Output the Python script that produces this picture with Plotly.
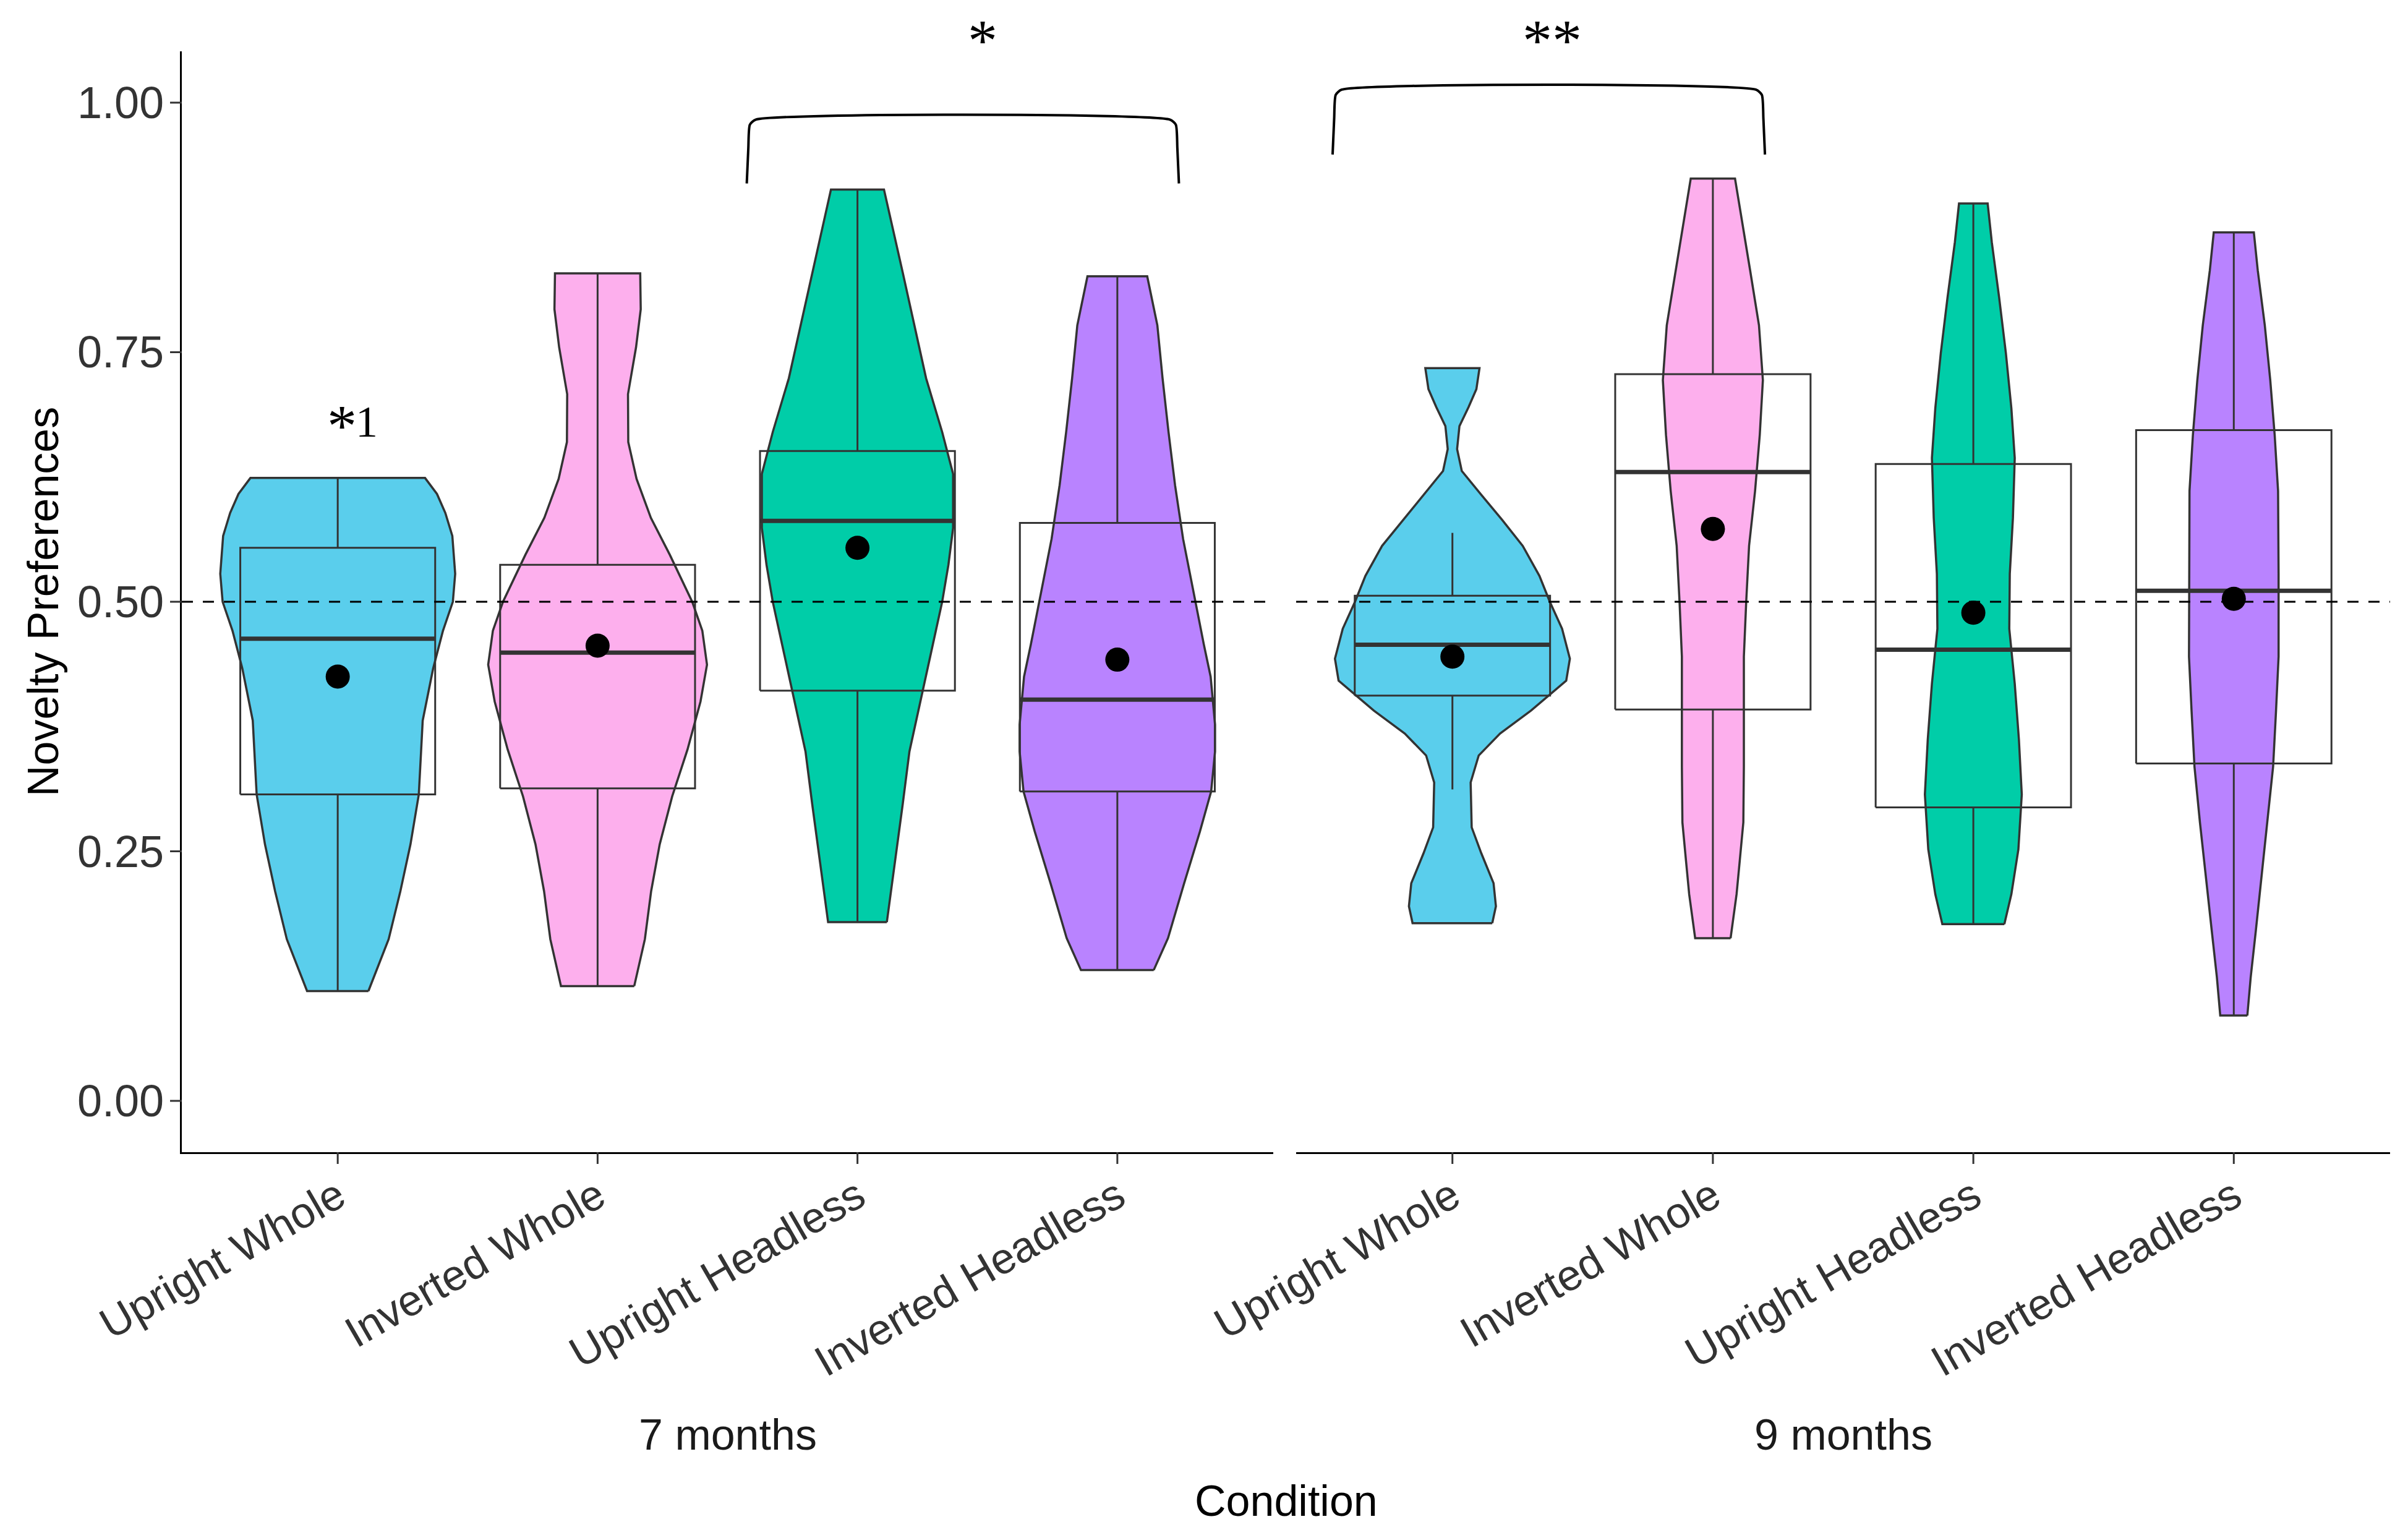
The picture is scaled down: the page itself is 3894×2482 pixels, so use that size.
import plotly.graph_objects as go

# ---------------- data ----------------
conditions = ["Upright Whole", "Inverted Whole", "Upright Headless", "Inverted Headless"]
age_groups = ["7 months", "9 months"]
positions = [1, 2, 3, 4]
colors = ["#5ACEEC", "#FDAFED", "#00CDA8", "#B983FF"]

# violin density profiles (y level, half-width in category units)
v7_uw_y = [0.110, 0.162, 0.210, 0.257, 0.307, 0.381, 0.433, 0.471, 0.500, 0.528, 0.566, 0.589, 0.608, 0.624]
v7_uw_w = [0.118, 0.196, 0.241, 0.280, 0.312, 0.327, 0.367, 0.405, 0.443, 0.452, 0.441, 0.414, 0.382, 0.336]
v7_iw_y = [0.115, 0.162, 0.210, 0.257, 0.305, 0.352, 0.400, 0.437, 0.471, 0.500, 0.547, 0.584, 0.623, 0.660, 0.708, 0.755, 0.793, 0.829]
v7_iw_w = [0.141, 0.182, 0.206, 0.239, 0.287, 0.346, 0.396, 0.421, 0.403, 0.364, 0.278, 0.205, 0.150, 0.118, 0.117, 0.148, 0.166, 0.164]
v7_uh_y = [0.179, 0.243, 0.297, 0.350, 0.411, 0.457, 0.500, 0.537, 0.574, 0.628, 0.670, 0.724, 0.777, 0.830, 0.883, 0.913]
v7_uh_w = [0.113, 0.147, 0.174, 0.200, 0.251, 0.290, 0.326, 0.350, 0.368, 0.368, 0.326, 0.264, 0.220, 0.174, 0.128, 0.102]
v7_ih_y = [0.131, 0.163, 0.217, 0.270, 0.310, 0.350, 0.377, 0.425, 0.457, 0.500, 0.563, 0.617, 0.670, 0.724, 0.777, 0.826]
v7_ih_w = [0.140, 0.195, 0.256, 0.318, 0.361, 0.376, 0.376, 0.359, 0.333, 0.300, 0.253, 0.222, 0.197, 0.174, 0.154, 0.115]

v9_uw_y = [0.178, 0.195, 0.218, 0.248, 0.274, 0.319, 0.346, 0.368, 0.391, 0.406, 0.421, 0.443, 0.473, 0.500,
           0.526, 0.556, 0.582, 0.608, 0.631, 0.653, 0.676, 0.695, 0.713, 0.734]
v9_uw_w = [0.153, 0.167, 0.158, 0.111, 0.074, 0.070, 0.101, 0.183, 0.302, 0.370, 0.437, 0.451, 0.421, 0.374,
           0.334, 0.270, 0.191, 0.108, 0.036, 0.018, 0.027, 0.062, 0.092, 0.104]
v9_iw_y = [0.163, 0.207, 0.240, 0.279, 0.335, 0.445, 0.500, 0.556, 0.611, 0.667, 0.722, 0.777, 0.832, 0.888, 0.924]
v9_iw_w = [0.068, 0.091, 0.103, 0.117, 0.119, 0.119, 0.128, 0.139, 0.162, 0.180, 0.192, 0.177, 0.143, 0.108, 0.085]
v9_uh_y = [0.177, 0.207, 0.252, 0.307, 0.362, 0.418, 0.473, 0.528, 0.584, 0.644, 0.694, 0.749, 0.805, 0.860, 0.899]
v9_uh_w = [0.119, 0.146, 0.173, 0.186, 0.175, 0.159, 0.138, 0.140, 0.152, 0.159, 0.146, 0.125, 0.099, 0.071, 0.055]
v9_ih_y = [0.0855, 0.124, 0.169, 0.224, 0.279, 0.335, 0.390, 0.445, 0.528, 0.611, 0.667, 0.722, 0.777, 0.832, 0.870]
v9_ih_w = [0.052, 0.065, 0.084, 0.106, 0.130, 0.151, 0.162, 0.172, 0.172, 0.170, 0.157, 0.140, 0.119, 0.092, 0.077]

# box statistics
q1_7m = [0.307, 0.313, 0.411, 0.310]
median_7m = [0.463, 0.449, 0.581, 0.402]
q3_7m = [0.554, 0.537, 0.651, 0.579]
lower_7m = [0.110, 0.115, 0.179, 0.131]
upper_7m = [0.624, 0.829, 0.913, 0.826]
mean_7m = [0.425, 0.456, 0.554, 0.442]

q1_9m = [0.406, 0.392, 0.294, 0.338]
median_9m = [0.457, 0.630, 0.452, 0.511]
q3_9m = [0.506, 0.728, 0.638, 0.672]
lower_9m = [0.312, 0.163, 0.177, 0.0855]
upper_9m = [0.569, 0.924, 0.899, 0.870]
mean_9m = [0.445, 0.573, 0.489, 0.503]

chance_level = 0.5
y_ticks = [0.0, 0.25, 0.5, 0.75, 1.0]
y_tick_labels = ["0.00", "0.25", "0.50", "0.75", "1.00"]

# significance brackets
bracket_panel = [0, 1]
bracket_x0 = [2.574, 0.54]
bracket_x1 = [4.237, 2.20]
bracket_ylow = [0.919, 0.948]
bracket_ytop = [0.983, 1.013]
bracket_label = ["*", "**"]
bracket_label_x = [3.482, 1.383]
bracket_label_y = [1.062, 1.062]

# single-condition marker "*1" (star + footnote digit)
single_star_x, single_star_y = 1.016, 0.676
single_note = "1"
single_note_x, single_note_y = 1.112, 0.680

# ---------------- figure ----------------
violins_7m = [(v7_uw_y, v7_uw_w), (v7_iw_y, v7_iw_w), (v7_uh_y, v7_uh_w), (v7_ih_y, v7_ih_w)]
violins_9m = [(v9_uw_y, v9_uw_w), (v9_iw_y, v9_iw_w), (v9_uh_y, v9_uh_w), (v9_ih_y, v9_ih_w)]
stats = [
    (q1_7m, median_7m, q3_7m, lower_7m, upper_7m, mean_7m),
    (q1_9m, median_9m, q3_9m, lower_9m, upper_9m, mean_9m),
]

EDGE = "#333333"
BOX_W = 0.75
Y_MIN, Y_MAX = -0.0514, 1.0514
fig = go.Figure()

for p, (violins, st) in enumerate(zip([violins_7m, violins_9m], stats)):
    xa = "x" if p == 0 else "x2"
    for i, (yy, ww) in enumerate(violins):
        c = positions[i]
        xs = [c + w for w in ww] + [c - w for w in reversed(ww)]
        ys = list(yy) + list(reversed(yy))
        xs.append(xs[0]); ys.append(ys[0])
        fig.add_trace(go.Scatter(x=xs, y=ys, xaxis=xa, yaxis="y", mode="lines",
                                 fill="toself", fillcolor=colors[i],
                                 line=dict(color=EDGE, width=3.5), hoverinfo="skip",
                                 showlegend=False))
    q1, med, q3, lo, up, mn = st
    bx, by = [], []
    for i in range(4):
        c = positions[i]
        h = BOX_W / 2
        bx += [c - h, c + h, c + h, c - h, c - h, None, c, c, None, c, c, None]
        by += [q1[i], q1[i], q3[i], q3[i], q1[i], None, q3[i], up[i], None, lo[i], q1[i], None]
    fig.add_trace(go.Scatter(x=bx, y=by, xaxis=xa, yaxis="y", mode="lines",
                             line=dict(color=EDGE, width=3), showlegend=False, hoverinfo="skip"))
    mx, my = [], []
    for i in range(4):
        mx += [positions[i] - BOX_W / 2, positions[i] + BOX_W / 2, None]
        my += [med[i], med[i], None]
    fig.add_trace(go.Scatter(x=mx, y=my, xaxis=xa, yaxis="y", mode="lines",
                             line=dict(color=EDGE, width=7), showlegend=False, hoverinfo="skip"))
    fig.add_trace(go.Scatter(x=positions, y=mn, xaxis=xa, yaxis="y", mode="markers",
                             marker=dict(color="black", size=39, line=dict(width=0)),
                             showlegend=False))
    fig.add_trace(go.Scatter(x=[0.4, 4.6], y=[chance_level, chance_level], xaxis=xa, yaxis="y",
                             mode="lines", line=dict(color="black", width=3, dash="18px,16px"),
                             showlegend=False, hoverinfo="skip"))

SERIF = "Liberation Serif, Times New Roman, serif"

def to_paper(v):
    return (v - Y_MIN) / (Y_MAX - Y_MIN)

for k in range(len(bracket_panel)):
    xa = "x" if bracket_panel[k] == 0 else "x2"
    x0, x1, yl, yt = bracket_x0[k], bracket_x1[k], bracket_ylow[k], bracket_ytop[k]
    dy = yt - yl
    bxk = [x0, x0 + 0.006, x0 + 0.012, x0 + 0.035, x1 - 0.035, x1 - 0.012, x1 - 0.006, x1]
    byk = [yl, yt - dy * 0.45, yt - dy * 0.08, yt, yt, yt - dy * 0.08, yt - dy * 0.45, yl]
    fig.add_trace(go.Scatter(x=bxk, y=byk, xaxis=xa, yaxis="y", mode="lines",
                             line=dict(color="black", width=4, shape="spline", smoothing=0.6),
                             showlegend=False, hoverinfo="skip", cliponaxis=False))
    fig.add_annotation(x=bracket_label_x[k], y=to_paper(bracket_label_y[k]), xref=xa, yref="paper",
                       text=bracket_label[k], showarrow=False, xanchor="center", yanchor="middle",
                       font=dict(family=SERIF, size=96, color="black"))

fig.add_annotation(x=single_star_x, y=single_star_y, xref="x", yref="y", text="*",
                   showarrow=False, xanchor="center", yanchor="middle",
                   font=dict(family=SERIF, size=96, color="black"))
fig.add_annotation(x=single_note_x, y=single_note_y, xref="x", yref="y", text=single_note,
                   showarrow=False, xanchor="center", yanchor="middle",
                   font=dict(family=SERIF, size=72, color="black"))

FONT = "Liberation Sans, Arial, sans-serif"
TICK_COLOR = "#333333"
TICK_LEN = 19

axis_common = dict(showgrid=False, zeroline=False, showline=True, linecolor="black", linewidth=3,
                   ticks="")

W, H = 3894, 2482
L, R, T, B = 286, 37, 75, 627
plot_w = W - L - R
plot_h = H - T - B
d1 = (2051 - L) / plot_w
d2 = (2088 - L) / plot_w

fig.update_layout(
    width=W, height=H,
    margin=dict(l=L, r=R, t=T, b=B, pad=0),
    paper_bgcolor="white", plot_bgcolor="white",
    showlegend=False,
    font=dict(family=FONT, color="black"),
    xaxis=dict(domain=[0, d1], range=[0.4, 4.6], tickvals=positions, ticktext=conditions,
               tickangle=-30, anchor="y", tickfont=dict(family=FONT, size=70, color=TICK_COLOR),
               **axis_common),
    xaxis2=dict(domain=[d2, 1], range=[0.4, 4.6], tickvals=positions, ticktext=conditions,
                tickangle=-30, anchor="y", tickfont=dict(family=FONT, size=70, color=TICK_COLOR),
                **axis_common),
    yaxis=dict(domain=[0, 1], range=[Y_MIN, Y_MAX], tickvals=y_ticks, showticklabels=False,
               anchor="x", **axis_common),
)

# tick marks drawn at the axis tick positions
for xa in ["x", "x2"]:
    for v in positions:
        fig.add_shape(type="line", xref=xa, yref="paper", x0=v, x1=v, y0=0, y1=-TICK_LEN / plot_h,
                      line=dict(color=TICK_COLOR, width=3), layer="above")
for v, lab in zip(y_ticks, y_tick_labels):
    fig.add_shape(type="line", xref="paper", yref="paper", x0=-TICK_LEN / plot_w, x1=0,
                  y0=to_paper(v), y1=to_paper(v),
                  line=dict(color=TICK_COLOR, width=3), layer="above")
    fig.add_annotation(x=-(TICK_LEN + 8) / plot_w, y=v, xref="paper", yref="y", text=lab,
                       showarrow=False, xanchor="right", yanchor="middle",
                       font=dict(family=FONT, size=72, color=TICK_COLOR))

def py(pix):
    return (H - B - pix) / plot_h

fig.add_annotation(x=0.5, y=py(2312), xref="x domain", yref="paper", text=age_groups[0],
                   showarrow=False, xanchor="center", yanchor="middle",
                   font=dict(family=FONT, size=70, color="#1A1A1A"))
fig.add_annotation(x=0.5, y=py(2312), xref="x2 domain", yref="paper", text=age_groups[1],
                   showarrow=False, xanchor="center", yanchor="middle",
                   font=dict(family=FONT, size=70, color="#1A1A1A"))
fig.add_annotation(x=0.5, y=py(2419), xref="paper", yref="paper", text="Condition",
                   showarrow=False, xanchor="center", yanchor="middle",
                   font=dict(family=FONT, size=70, color="black"))
fig.add_annotation(x=(62 - L) / plot_w, y=0.5, xref="paper", yref="paper", text="Novelty Preferences",
                   textangle=-90, showarrow=False, xanchor="center", yanchor="middle",
                   font=dict(family=FONT, size=70, color="black"))

fig.write_html("out.html")
